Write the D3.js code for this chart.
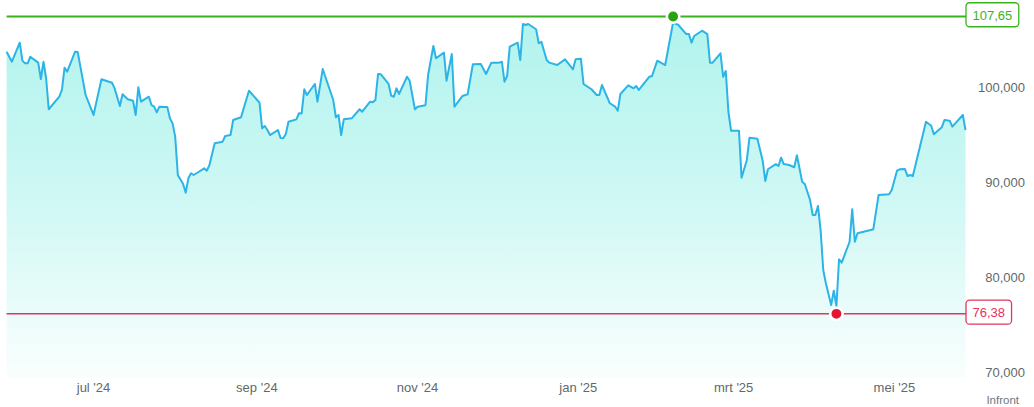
<!DOCTYPE html>
<html><head><meta charset="utf-8">
<script src="https://cdn.jsdelivr.net/npm/d3@7"></script>
<style>html,body{margin:0;padding:0;background:#fff;}svg{display:block;font-family:"Liberation Sans",Arial,sans-serif;}</style>
</head><body><svg id="c" width="1034" height="407"></svg>
<script>
const dates = [
"2024-05-29","2024-05-31","2024-06-03","2024-06-04","2024-06-05","2024-06-06","2024-06-07","2024-06-10","2024-06-11","2024-06-12",
"2024-06-13","2024-06-14","2024-06-18","2024-06-19","2024-06-20","2024-06-21","2024-06-24","2024-06-25","2024-06-28","2024-07-01",
"2024-07-04","2024-07-08","2024-07-09","2024-07-11","2024-07-12","2024-07-14","2024-07-16","2024-07-17","2024-07-18","2024-07-19",
"2024-07-22","2024-07-23","2024-07-24","2024-07-25","2024-07-26","2024-07-29","2024-07-30","2024-07-31","2024-08-01","2024-08-02",
"2024-08-04","2024-08-05","2024-08-06","2024-08-07","2024-08-08","2024-08-10","2024-08-12","2024-08-13","2024-08-14","2024-08-16",
"2024-08-19","2024-08-20","2024-08-22","2024-08-23","2024-08-26","2024-08-29","2024-08-31","2024-09-02","2024-09-03","2024-09-04",
"2024-09-05","2024-09-06","2024-09-09","2024-09-10","2024-09-11","2024-09-12","2024-09-13","2024-09-16","2024-09-17","2024-09-18",
"2024-09-19","2024-09-20","2024-09-23","2024-09-24","2024-09-26","2024-09-30","2024-10-01","2024-10-02","2024-10-03","2024-10-04",
"2024-10-07","2024-10-10","2024-10-11","2024-10-14","2024-10-15","2024-10-16","2024-10-17","2024-10-18","2024-10-21","2024-10-22",
"2024-10-23","2024-10-24","2024-10-25","2024-10-28","2024-10-29","2024-10-31","2024-11-01","2024-11-04","2024-11-05","2024-11-07",
"2024-11-08","2024-11-11","2024-11-12","2024-11-14","2024-11-15","2024-11-18","2024-11-20","2024-11-22","2024-11-25","2024-11-27",
"2024-11-29","2024-12-02","2024-12-03","2024-12-04","2024-12-05","2024-12-06","2024-12-09","2024-12-10","2024-12-11","2024-12-12",
"2024-12-13","2024-12-16","2024-12-17","2024-12-18","2024-12-20","2024-12-21","2024-12-24","2024-12-27","2024-12-30","2024-12-31",
"2025-01-02","2025-01-03","2025-01-06","2025-01-08","2025-01-09","2025-01-10","2025-01-13","2025-01-15","2025-01-16","2025-01-17",
"2025-01-20","2025-01-22","2025-01-23","2025-01-24","2025-01-28","2025-01-29","2025-01-31","2025-02-03","2025-02-06","2025-02-08",
"2025-02-11","2025-02-12","2025-02-13","2025-02-14","2025-02-17","2025-02-19","2025-02-20","2025-02-21","2025-02-24","2025-02-25",
"2025-02-26","2025-02-27","2025-02-28","2025-03-03","2025-03-04","2025-03-06","2025-03-07","2025-03-10","2025-03-12","2025-03-13",
"2025-03-14","2025-03-17","2025-03-18","2025-03-19","2025-03-20","2025-03-22","2025-03-24","2025-03-25","2025-03-27","2025-03-28",
"2025-03-30","2025-03-31","2025-04-01","2025-04-02","2025-04-03","2025-04-04","2025-04-05","2025-04-07","2025-04-08","2025-04-09",
"2025-04-10","2025-04-11","2025-04-14","2025-04-15","2025-04-16","2025-04-17","2025-04-22","2025-04-23","2025-04-25","2025-04-29",
"2025-04-30","2025-05-02","2025-05-03","2025-05-05","2025-05-06","2025-05-07","2025-05-08","2025-05-13","2025-05-15","2025-05-16",
"2025-05-19","2025-05-20","2025-05-22","2025-05-23","2025-05-27","2025-05-28"];
const closes = [
103.94,102.89,104.89,103.00,102.72,102.72,103.42,102.79,101.07,102.89,
101.15,97.89,99.21,99.92,102.26,101.84,103.94,103.90,99.39,97.29,
101.04,100.68,100.09,98.23,99.46,98.94,98.79,97.29,100.20,98.69,
99.21,98.34,98.16,97.57,98.16,98.14,96.94,96.41,95.01,90.98,
90.03,89.12,90.63,91.16,90.98,91.32,91.68,91.43,92.03,94.31,
94.48,95.08,95.18,96.76,97.05,99.84,99.21,98.58,95.89,96.13,
95.71,95.18,95.71,94.87,94.84,95.29,96.58,96.83,97.47,97.45,
99.99,99.39,100.55,98.69,102.12,98.86,97.05,97.29,95.18,96.83,
96.94,97.89,97.63,98.69,98.62,98.86,101.60,101.58,100.55,99.32,
99.21,100.09,99.50,101.31,100.89,97.89,98.16,98.31,101.49,104.54,
103.25,103.84,100.89,103.70,98.16,99.28,99.46,102.62,102.65,101.60,
102.79,102.79,102.89,100.79,101.39,104.47,104.89,103.07,106.86,106.75,
106.86,106.30,104.83,104.99,103.07,102.79,102.54,103.14,102.09,103.14,
103.21,100.55,99.99,99.39,99.39,100.44,98.52,98.16,97.74,99.50,
100.41,100.09,100.34,99.92,101.31,101.39,103.00,102.54,107.01,106.75,
105.80,105.80,104.89,105.59,106.15,105.80,102.79,102.79,103.77,101.31,
101.91,97.63,95.64,95.64,90.69,92.56,94.90,94.79,92.48,90.35,
91.58,92.13,91.92,92.80,92.13,92.03,91.79,93.05,90.27,90.03,
88.35,86.77,86.77,87.72,85.19,80.99,79.59,77.31,78.81,77.20,
82.11,81.76,83.96,87.37,83.96,84.85,85.19,85.27,88.87,88.95,
89.40,91.43,91.58,91.61,90.87,90.98,90.87,96.58,96.16,95.26,
95.99,96.76,96.69,96.06,97.29,95.71];

const highValue = 107.65, highDate = "2025-02-06";
const lowValue = 76.38, lowDate = "2025-04-09";
const yTicks = [70, 80, 90, 100];
const xTickDates = ["2024-07-01","2024-09-01","2024-11-01","2025-01-01","2025-03-01","2025-05-01"];
const xTickLabels = ["jul '24","sep '24","nov '24","jan '25","mrt '25","mei '25"];
const sourceLabel = "Infront";

const parse = d3.timeParse("%Y-%m-%d");
const data = dates.map((d, i) => ({ date: parse(d), value: closes[i] }));

const svg = d3.select("#c");
const x = d3.scaleTime().domain(d3.extent(data, d => d.date)).range([6.6, 965.5]);
const y = d3.scaleLinear().domain([70, 100]).range([374.5, 89.2]);
const bottom = 378;

const fmt3 = v => d3.format(",.3f")(v).replace(".", "#").replace(/,/g, ".").replace("#", ",");
const fmt2 = v => d3.format(".2f")(v).replace(".", ",");

const defs = svg.append("defs");
const grad = defs.append("linearGradient").attr("id", "g")
  .attr("gradientUnits", "userSpaceOnUse").attr("x1", 0).attr("x2", 0).attr("y1", y(highValue)).attr("y2", bottom);
grad.append("stop").attr("offset", 0).attr("stop-color", "rgb(120,235,225)").attr("stop-opacity", 0.58);
grad.append("stop").attr("offset", 0.5).attr("stop-color", "rgb(120,235,225)").attr("stop-opacity", 0.36);
grad.append("stop").attr("offset", 1).attr("stop-color", "rgb(120,235,225)").attr("stop-opacity", 0.04);

svg.append("path").datum(data)
  .attr("d", d3.area().x(d => x(d.date)).y0(bottom).y1(d => y(d.value)))
  .attr("fill", "url(#g)");
svg.append("path").datum(data)
  .attr("d", d3.line().x(d => x(d.date)).y(d => y(d.value)))
  .attr("fill", "none").attr("stroke", "#2cb4e6").attr("stroke-width", 2).attr("stroke-linejoin", "round");

svg.append("g").selectAll("text").data(yTicks).join("text")
  .attr("x", 1025).attr("y", d => y(d) + 2.9)
  .attr("text-anchor", "end").attr("font-size", 13).attr("fill", "#5d6a6c")
  .text(d => fmt3(d));

svg.append("g").selectAll("text").data(xTickDates).join("text")
  .attr("x", d => x(parse(d))).attr("y", 392)
  .attr("text-anchor", "middle").attr("font-size", 13).attr("fill", "#5d6a6c")
  .text((d, i) => xTickLabels[i]);

svg.append("text").attr("x", 1019).attr("y", 404).attr("text-anchor", "end")
  .attr("font-size", 11.5).attr("fill", "#6b7a7c").text(sourceLabel);

function refLine(value, date, color, dotColor, width) {
  const yy = y(value);
  svg.append("line").attr("x1", 6.6).attr("x2", 966).attr("y1", yy).attr("y2", yy)
    .attr("stroke", color).attr("stroke-width", width);
  svg.append("circle").attr("cx", x(parse(date))).attr("cy", yy).attr("r", 6.2)
    .attr("fill", dotColor).attr("stroke", "#fff").attr("stroke-width", 2.5);
  const label = fmt2(value);
  const box = svg.append("rect");
  const t = svg.append("text").attr("y", yy + 3.2).attr("font-size", 13)
    .attr("fill", color).attr("text-anchor", "middle").text(label);
  const w = t.node().getComputedTextLength() + 13;
  box.attr("x", 966).attr("y", yy - 13.7).attr("width", w).attr("height", 24)
    .attr("rx", 3.5).attr("fill", "#fff").attr("stroke", color).attr("stroke-width", 1.3);
  t.attr("x", 966 + w / 2);
}
refLine(highValue, highDate, "#3bb31f", "#2aa10f", 2);
refLine(lowValue, lowDate, "#e5335e", "#e3172f", 1.5);
</script></body></html>
